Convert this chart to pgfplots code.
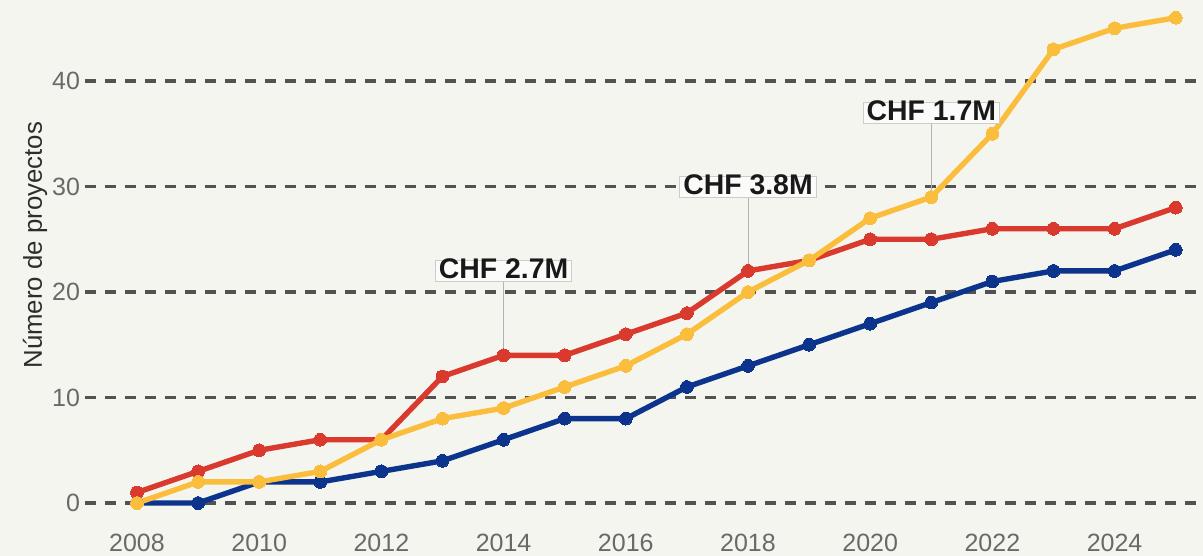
\documentclass[border=0pt]{standalone}
\usepackage{pgfplots}
\pgfplotsset{compat=1.18}
\usepackage{fontspec}
\setmainfont{Liberation Sans}
\definecolor{bgc}{RGB}{245,245,240}
\definecolor{cred}{RGB}{217,58,45}
\definecolor{cyel}{RGB}{250,190,60}
\definecolor{cblue}{RGB}{12,52,140}
\definecolor{tickc}{RGB}{105,105,105}
\definecolor{labc}{RGB}{45,45,45}
\begin{document}
\begin{tikzpicture}
\fill[bgc] (-42.5pt,-14.35pt) rectangle (559pt,263.65pt);
\begin{axis}[
  scale only axis,
  width=559pt, height=263.65pt,
  xmin=2007.149, xmax=2025.447,
  ymin=-2.3, ymax=47.68,
  axis line style={draw=none},
  major tick style={draw=none},
  xtick={2008,2010,...,2024},
  ytick={0,10,...,40},
  xticklabel style={/pgf/number format/1000 sep={},font=\fontsize{12.5}{14}\selectfont,text=tickc,yshift=0pt},
  yticklabel style={font=\fontsize{12.5}{14}\selectfont,text=tickc,xshift=1pt},
  /pgf/number format/assume math mode=true,
  ymajorgrids,
  major grid style={black!68,line width=1.6pt,dash pattern=on 5.5pt off 4.5pt},
  ylabel={Número de proyectos},
  every axis y label/.style={at={(axis description cs:-0.0446,0.535)},rotate=90,anchor=center,font=\fontsize{12.9}{15}\selectfont,text=labc},
  clip=false,
  every axis plot/.append style={line width=2.7pt, mark=*, mark size=3.2pt, line join=round},
]
\addplot[cblue, mark options={fill=cblue,draw=cblue,line width=0pt}] coordinates {
(2008,0)(2009,0)(2010,2)(2011,2)(2012,3)(2013,4)(2014,6)(2015,8)(2016,8)(2017,11)(2018,13)(2019,15)(2020,17)(2021,19)(2022,21)(2023,22)(2024,22)(2025,24)};
\addplot[cred, mark options={fill=cred,draw=cred,line width=0pt}] coordinates {
(2008,1)(2009,3)(2010,5)(2011,6)(2012,6)(2013,12)(2014,14)(2015,14)(2016,16)(2017,18)(2018,22)(2019,23)(2020,25)(2021,25)(2022,26)(2023,26)(2024,26)(2025,28)};
\addplot[cyel, mark options={fill=cyel,draw=cyel,line width=0pt}] coordinates {
(2008,0)(2009,2)(2010,2)(2011,3)(2012,6)(2013,8)(2014,9)(2015,11)(2016,13)(2017,16)(2018,20)(2019,23)(2020,27)(2021,29)(2022,35)(2023,43)(2024,45)(2025,46)};
\tikzset{lbl/.style={draw=black!20,line width=0.5pt,fill=white!60!bgc,font=\fontsize{14.2}{16}\selectfont\bfseries,text=black!90,inner xsep=1.8pt,inner ysep=1.6pt,text height=0.72em,text depth=0pt}}
\node[lbl] (a1) at (axis cs:2014,22) {CHF 2.7M};
\draw[black!30,line width=0.5pt] (axis cs:2014,14) -- (a1.south);
\node[lbl] (a2) at (axis cs:2018,29.95) {CHF 3.8M};
\draw[black!30,line width=0.5pt] (axis cs:2018,22) -- (a2.south);
\node[lbl] (a3) at (axis cs:2021,36.97) {CHF 1.7M};
\draw[black!30,line width=0.5pt] (axis cs:2021,29) -- (a3.south);
\end{axis}
\pgfresetboundingbox
\useasboundingbox (-42.5pt,-14.35pt) rectangle (559pt,263.65pt);
\end{tikzpicture}
\end{document}
